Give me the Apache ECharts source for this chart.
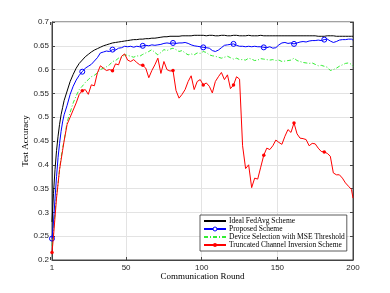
<!DOCTYPE html>
<html><head><meta charset="utf-8">
<script src="https://cdn.jsdelivr.net/npm/echarts@6/dist/echarts.min.js"></script>
<style>html,body{margin:0;padding:0;background:#fff;}#c{width:390px;height:293px;}</style>
</head><body><div id="c"></div>
<script>
var rounds = [1,2,3,4,5,6,7,8,9,
11,13,15,17,19, 21,23,25,27,29, 31,33,35,37,39, 41,43,45,47,49,
51,53,55,57,59, 61,63,65,67,69, 71,73,75,77,79, 81,83,85,87,89,
91,93,95,97,99, 101,103,105,107,109, 111,113,115,117,119, 121,123,125,127,129,
131,133,135,137,139, 141,143,145,147,149, 151,153,155,157,159, 161,163,165,167,169,
171,173,175,177,179, 181,183,185,187,189, 191,193,195,197,199, 200];

var xTicks = [1, 50, 100, 150, 200];
var markerRounds = [1, 21, 41, 61, 81, 101, 121, 141, 161, 181];

var seriesNames = ["Ideal FedAvg Scheme", "Proposed Scheme", "Device Selection with MSE Threshold", "Truncated Channel Inversion Scheme"];

var idealFedAvg = [0.28,0.34,0.39,0.43,0.46,0.485,0.505,0.52,0.535,
0.555,0.575,0.59,0.603,0.613, 0.62,0.627,0.632,0.637,0.641, 0.644,0.647,0.65,0.652,0.654,
0.656,0.657,0.658,0.659,0.66, 0.661,0.662,0.663,0.663,0.664, 0.664,0.665,0.665,0.666,0.666,
0.667,0.668,0.669,0.669,0.67, 0.67,0.67,0.67,0.671,0.671, 0.671,0.671,0.672,0.672,0.672,
0.672,0.671,0.672,0.672,0.671, 0.671,0.672,0.672,0.671,0.671, 0.672,0.672,0.671,0.671,0.671,
0.672,0.671,0.671,0.671,0.672, 0.671,0.671,0.671,0.671,0.671, 0.671,0.671,0.671,0.671,0.671,
0.671,0.671,0.671,0.671,0.671, 0.671,0.671,0.671,0.670,0.670, 0.670,0.671,0.671,0.671,0.670,
0.670,0.670,0.670,0.670,0.670, 0.670];

var proposed = [0.245,0.28,0.33,0.375,0.415,0.445,0.47,0.49,0.505,
0.525,0.548,0.565,0.578,0.588, 0.5956,0.603,0.607,0.611,0.618, 0.625,0.635,0.637,0.639,0.638,
0.642,0.641,0.645,0.646,0.649, 0.648,0.649,0.647,0.649,0.648, 0.650,0.651,0.650,0.652,0.651,
0.652,0.653,0.655,0.656,0.655, 0.656,0.655,0.656,0.656,0.657, 0.655,0.652,0.650,0.649,0.648,
0.6467,0.646,0.645,0.640,0.638, 0.641,0.646,0.651,0.652,0.653, 0.654,0.651,0.649,0.649,0.648,
0.649,0.648,0.649,0.648,0.648, 0.6467,0.646,0.648,0.645,0.646, 0.652,0.656,0.657,0.655,0.656,
0.654,0.656,0.658,0.659,0.658, 0.660,0.661,0.661,0.662,0.661, 0.663,0.664,0.660,0.657,0.659,
0.662,0.663,0.663,0.664,0.664, 0.662];

var mseThreshold = [0.23,0.26,0.30,0.335,0.36,0.39,0.415,0.435,0.45,
0.49,0.51,0.53,0.545,0.558, 0.565,0.573,0.579,0.585,0.588, 0.593,0.60,0.603,0.606,0.61,
0.617,0.619,0.624,0.625,0.631, 0.630,0.628,0.626,0.629,0.628, 0.632,0.635,0.638,0.642,0.636,
0.631,0.636,0.642,0.640,0.643, 0.645,0.642,0.638,0.640,0.635, 0.631,0.633,0.631,0.635,0.634,
0.638,0.636,0.631,0.629,0.628, 0.626,0.624,0.626,0.628,0.625, 0.622,0.624,0.621,0.621,0.620,
0.624,0.622,0.619,0.620,0.623, 0.622,0.621,0.620,0.621,0.619, 0.620,0.617,0.618,0.619,0.620,
0.624,0.619,0.617,0.615,0.614, 0.613,0.614,0.611,0.608,0.609, 0.607,0.605,0.598,0.600,0.603,
0.607,0.610,0.613,0.614,0.611, 0.607];

var truncated = [0.216,0.25,0.29,0.33,0.36,0.39,0.41,0.43,0.45,
0.485,0.50,0.515,0.53,0.548, 0.5557,0.558,0.548,0.568,0.566, 0.593,0.608,0.603,0.598,0.600,
0.5977,0.612,0.610,0.628,0.633, 0.620,0.617,0.621,0.615,0.610, 0.609,0.603,0.583,0.598,0.610,
0.624,0.592,0.617,0.600,0.597, 0.598,0.556,0.540,0.548,0.558, 0.575,0.587,0.558,0.575,0.579,
0.5676,0.572,0.565,0.551,0.575, 0.585,0.594,0.579,0.589,0.560, 0.5676,0.585,0.580,0.440,0.392,
0.400,0.352,0.372,0.370,0.395, 0.42,0.435,0.432,0.44,0.452, 0.447,0.443,0.460,0.474,0.468,
0.488,0.465,0.456,0.455,0.453, 0.440,0.445,0.444,0.435,0.428, 0.427,0.424,0.418,0.383,0.379,
0.379,0.372,0.362,0.355,0.348, 0.330];

function pairs(vals){ return rounds.map(function(r,i){ return [r, vals[i]]; }); }
function markSize(s){ return function(v){ return markerRounds.indexOf(v[0]) >= 0 ? s : 0; }; }

// Layout: main grid spans rounds 1..200; helper grid spans 0..200 with the same scale,
// so that ticks at 50/100/150 sit at exactly the same pixel positions.
var G_LEFT = 52, G_RIGHT = 37, G_TOP = 22, G_BOTTOM = 33, W = 390;
var plotW = W - G_LEFT - G_RIGHT;
var pxPerRound = plotW / (xTicks[xTicks.length-1] - xTicks[0]);
var helperLeft = G_LEFT - pxPerRound * xTicks[0];

var axisColor = '#444';
var gridColor = '#e3e3e3';
var tickFont = {fontFamily: 'Liberation Sans', fontSize: 8, color: '#262626'};
var chart = echarts.init(document.getElementById('c'), null, {renderer: 'canvas'});
chart.setOption({
  animation: false,
  backgroundColor: '#fff',
  grid: [
    {left: G_LEFT, right: G_RIGHT, top: G_TOP, bottom: G_BOTTOM, show: true, borderColor: axisColor, borderWidth: 1, backgroundColor: 'transparent'},
    {left: helperLeft, right: G_RIGHT, top: G_TOP, bottom: G_BOTTOM, show: false}
  ],
  xAxis: [{
    gridIndex: 0, type: 'value', min: xTicks[0], max: xTicks[xTicks.length-1], interval: xTicks[xTicks.length-1] - xTicks[0], position: 'bottom',
    name: 'Communication Round', nameLocation: 'middle', nameGap: 12, nameMoveOverlap: false,
    nameTextStyle: {fontFamily: 'Liberation Serif', fontSize: 9, color: '#000'},
    axisLine: {show: true, lineStyle: {color: axisColor, width: 1}},
    axisTick: {show: false},
    axisLabel: Object.assign({margin: 4, showMinLabel: true, showMaxLabel: true}, tickFont),
    splitLine: {show: false}
  },{
    gridIndex: 1, type: 'value', min: 0, max: xTicks[xTicks.length-1], interval: 50, position: 'bottom',
    axisLine: {show: false},
    axisTick: {show: true, inside: true, length: 3, lineStyle: {color: axisColor}},
    axisLabel: Object.assign({margin: 4, formatter: function(v){ return (v > xTicks[0] && v < xTicks[xTicks.length-1]) ? String(v) : ''; }}, tickFont),
    splitLine: {show: true, showMinLine: false, showMaxLine: false, lineStyle: {color: gridColor, width: 1}}
  },{
    gridIndex: 1, type: 'value', min: 0, max: xTicks[xTicks.length-1], interval: 50, position: 'top',
    axisLine: {show: false},
    axisTick: {show: true, inside: true, length: 3, lineStyle: {color: axisColor}},
    axisLabel: {show: false}, splitLine: {show: false}
  }],
  yAxis: [{
    gridIndex: 0, type: 'value', min: 0.2, max: 0.7, interval: 0.05, position: 'left',
    name: 'Test Accuracy', nameLocation: 'middle', nameGap: 22, nameRotate: 90, nameMoveOverlap: false,
    nameTextStyle: {fontFamily: 'Liberation Serif', fontSize: 9, color: '#000'},
    axisLine: {show: true, lineStyle: {color: axisColor, width: 1}},
    axisTick: {show: true, inside: true, length: 3, lineStyle: {color: axisColor}},
    axisLabel: Object.assign({margin: 3, formatter: function(v){ return String(+v.toFixed(2)); }}, tickFont),
    splitLine: {show: true, lineStyle: {color: gridColor, width: 1}}
  },{
    gridIndex: 0, type: 'value', min: 0.2, max: 0.7, interval: 0.05, position: 'right',
    axisLine: {show: true, lineStyle: {color: axisColor, width: 1}},
    axisTick: {show: true, inside: true, length: 3, lineStyle: {color: axisColor}},
    axisLabel: {show: false}, splitLine: {show: false}
  },{
    gridIndex: 1, type: 'value', min: 0.2, max: 0.7, show: false
  }],
  legend: {
    orient: 'vertical', left: 200, top: 215, itemGap: 0, itemWidth: 22, itemHeight: 5,
    padding: [2, 2, 2, 3], borderColor: '#333', borderWidth: 0.8, backgroundColor: '#fff',
    textStyle: {fontFamily: 'Liberation Serif', fontSize: 7.5, color: '#000', padding: [0,0,0,-2]},
    data: [
      {name: seriesNames[0], itemStyle: {color: 'transparent', borderColor: 'transparent', borderWidth: 0}},
      {name: seriesNames[1], itemStyle: {color: '#fff', borderColor: '#0000ff', borderWidth: 1}},
      {name: seriesNames[2], itemStyle: {color: 'transparent', borderColor: 'transparent', borderWidth: 0}},
      {name: seriesNames[3]}
    ]
  },
  series: [
    {name: seriesNames[0], type: 'line', xAxisIndex: 0, yAxisIndex: 0, data: pairs(idealFedAvg), symbol: 'none', lineStyle: {color: '#000', width: 1}, itemStyle: {color: '#000'}, z: 4},
    {name: seriesNames[1], type: 'line', xAxisIndex: 0, yAxisIndex: 0, data: pairs(proposed), symbol: 'circle', symbolSize: markSize(5), lineStyle: {color: '#0000ff', width: 1}, itemStyle: {color: 'rgba(255,255,255,0)', borderColor: '#0000ff', borderWidth: 1}, z: 3},
    {name: seriesNames[2], type: 'line', xAxisIndex: 0, yAxisIndex: 0, data: pairs(mseThreshold), symbol: 'none', lineStyle: {color: '#33ee33', width: 1, type: [4, 2, 1, 2]}, itemStyle: {color: '#33ee33'}, z: 2},
    {name: seriesNames[3], type: 'line', xAxisIndex: 0, yAxisIndex: 0, data: pairs(truncated), symbol: 'circle', symbolSize: markSize(3.5), lineStyle: {color: '#ff0000', width: 1}, itemStyle: {color: '#ff0000'}, z: 5}
  ]
});
</script>
</body></html>
